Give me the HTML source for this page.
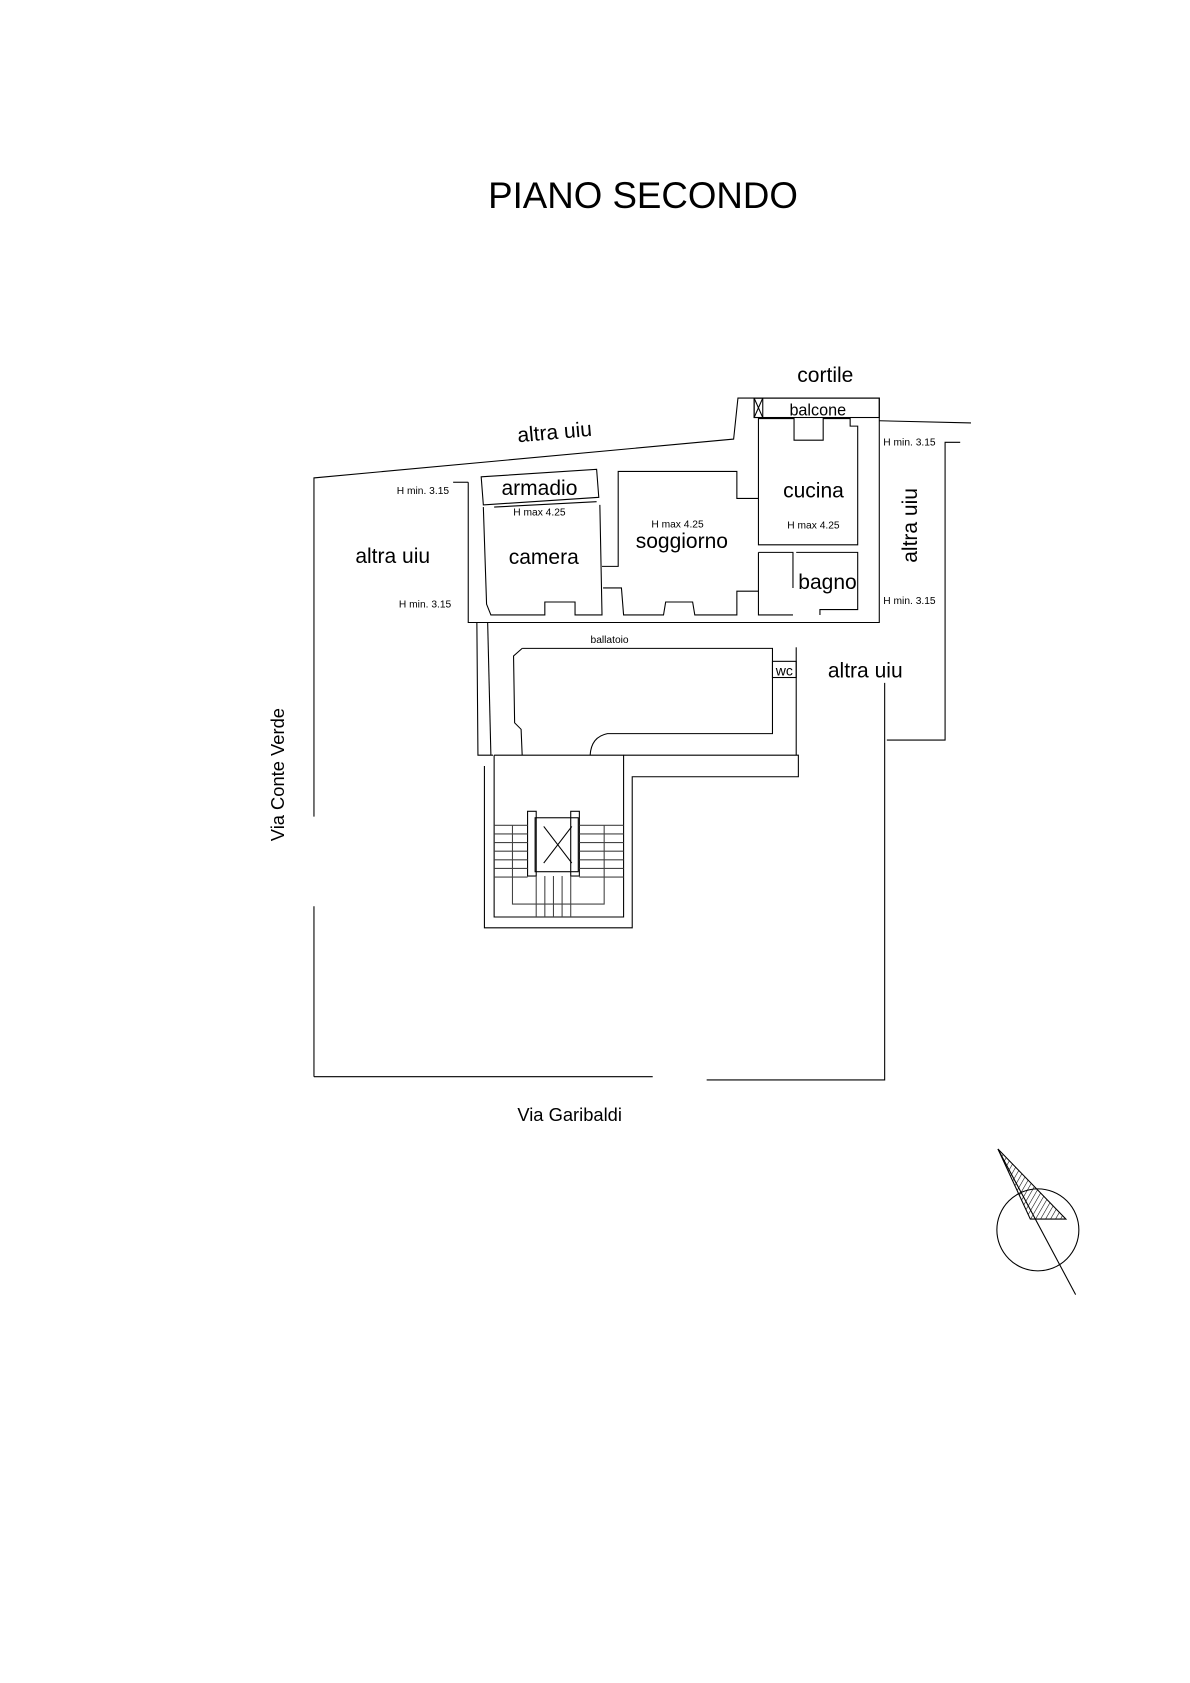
<!DOCTYPE html>
<html><head><meta charset="utf-8"><style>
html,body{margin:0;padding:0;background:#fff;}
svg{display:block;}
text{font-family:"Liberation Sans",Arial,sans-serif;fill:#000;}
</style></head><body>
<svg width="1190" height="1683" viewBox="0 0 1103 1560" xmlns="http://www.w3.org/2000/svg">
<defs>
<pattern id="h" width="4" height="4" patternUnits="userSpaceOnUse" patternTransform="rotate(30)"><line x1="0" y1="0" x2="0" y2="4" stroke="#000" stroke-width="1"/></pattern>
</defs>
<text x="596" y="193" font-size="34" text-anchor="middle">PIANO SECONDO</text>
<g fill="none" stroke="#000" stroke-width="1">
<polyline points="291,757 291,443 680,407 684,369 815,369 815,387"/>
<line x1="815" y1="390" x2="900" y2="392"/>
<line x1="291" y1="840" x2="291" y2="998"/>
<polyline points="605,998 291,998"/>
<polyline points="655,1001 820,1001 820,633"/>
<polyline points="822,686 876,686 876,410 890,410"/>
<polyline points="434,447 434,577 815,577 815,387"/>
<line x1="420" y1="447" x2="434" y2="447"/>
<rect x="699" y="369" width="116" height="18"/>
<rect x="699" y="369" width="8" height="18"/>
<line x1="699" y1="369" x2="707" y2="387"/><line x1="707" y1="369" x2="699" y2="387"/>
<polygon points="446,442 553,435 555,461 448,468"/>
<line x1="458" y1="470" x2="553" y2="465"/>
<polyline points="448,470 451,560 455,570 505,570 505,558 533,558 533,570 558,570 556,468"/>
<polyline points="558,525 573,525 573,437 683,437 683,462 703,462"/>
<polyline points="559,545 576,545 578,570 615,570 617,558 642,558 644,570 683,570 683,548 703,548"/>
<polyline points="703,387 703,505 795,505 795,395 788,395 788,388 763,388 763,408 736,408 736,388 703,388"/>
<polyline points="703,512 735,512 735,545"/>
<polyline points="738,512 795,512 795,565 760,565 760,570"/>
<polyline points="703,512 703,570 735,570"/>
<polyline points="442,577 443,700 457,700"/>
<polyline points="452,577 455,700"/>
<path d="M484,601 L716,601 L716,680 L563,680 Q548,683 547,700"/>
<polyline points="484,601 476,608 477,670 483,676 484,700"/>
<rect x="716" y="613" width="22" height="15"/>
<line x1="738" y1="600" x2="738" y2="700"/>
<polyline points="458,700 578,700 578,850 458,850 458,700"/>
<polyline points="449,710 449,860 586,860 586,720 740,720 740,700 578,700"/>
<rect x="496" y="758" width="40" height="50"/>
<line x1="504" y1="766" x2="530" y2="800"/><line x1="530" y1="766" x2="504" y2="800"/>
<rect x="489" y="752" width="8" height="60"/><rect x="529" y="752" width="8" height="60"/>
<g stroke="#444">
<line x1="458" y1="765" x2="489" y2="765"/><line x1="458" y1="773" x2="489" y2="773"/><line x1="458" y1="781" x2="489" y2="781"/><line x1="458" y1="789" x2="489" y2="789"/><line x1="458" y1="797" x2="489" y2="797"/><line x1="458" y1="805" x2="489" y2="805"/><line x1="458" y1="813" x2="489" y2="813"/>
<line x1="537" y1="765" x2="578" y2="765"/><line x1="537" y1="773" x2="578" y2="773"/><line x1="537" y1="781" x2="578" y2="781"/><line x1="537" y1="789" x2="578" y2="789"/><line x1="537" y1="797" x2="578" y2="797"/><line x1="537" y1="805" x2="578" y2="805"/><line x1="537" y1="813" x2="578" y2="813"/>
<line x1="497" y1="812" x2="497" y2="850"/><line x1="505" y1="812" x2="505" y2="850"/><line x1="513" y1="812" x2="513" y2="850"/><line x1="521" y1="812" x2="521" y2="850"/><line x1="529" y1="812" x2="529" y2="850"/>
<polyline points="475,765 475,838 560,838 560,765"/>
</g>
<circle cx="962" cy="1140" r="38"/>
<line x1="925" y1="1065" x2="997" y2="1200"/>
<polygon points="925,1065 988,1130 955,1130" fill="url(#h)"/>
</g>
<g font-size="19.5">
<text x="765" y="354" text-anchor="middle">cortile</text>
<text x="514" y="407" text-anchor="middle" transform="rotate(-5 514 400)">altra uiu</text>
<text x="364" y="522" text-anchor="middle">altra uiu</text>
<text x="500" y="459" text-anchor="middle">armadio</text>
<text x="504" y="523" text-anchor="middle">camera</text>
<text x="632" y="508" text-anchor="middle">soggiorno</text>
<text x="754" y="461" text-anchor="middle">cucina</text>
<text x="767" y="546" text-anchor="middle">bagno</text>
<text x="802" y="628" text-anchor="middle">altra uiu</text>
<text x="850" y="487" text-anchor="middle" transform="rotate(-90 850 487)">altra uiu</text>
<text x="528" y="1039" text-anchor="middle" font-size="17">Via Garibaldi</text>
<text x="263" y="718" text-anchor="middle" font-size="17" transform="rotate(-90 263 718)">Via Conte Verde</text>
<text x="758" y="385" text-anchor="middle" font-size="15">balcone</text>
<text x="727" y="626" text-anchor="middle" font-size="13">wc</text>
</g>
<g font-size="9.5">
<text x="392" y="458" text-anchor="middle">H min. 3.15</text>
<text x="394" y="563" text-anchor="middle">H min. 3.15</text>
<text x="843" y="413" text-anchor="middle">H min. 3.15</text>
<text x="843" y="560" text-anchor="middle">H min. 3.15</text>
<text x="500" y="478" text-anchor="middle">H max 4.25</text>
<text x="628" y="489" text-anchor="middle">H max 4.25</text>
<text x="754" y="490" text-anchor="middle">H max 4.25</text>
<text x="565" y="596" text-anchor="middle">ballatoio</text>
</g>
</svg>
</body></html>
